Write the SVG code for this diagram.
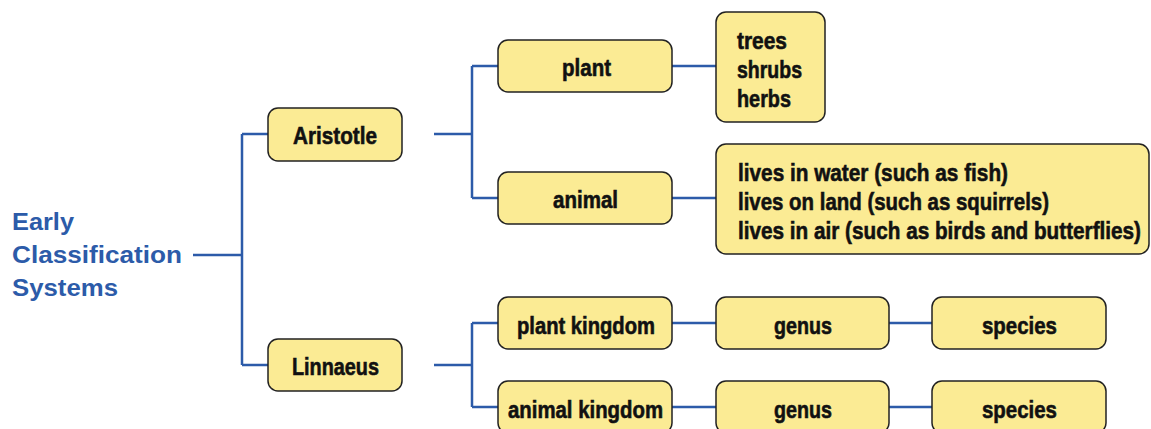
<svg xmlns="http://www.w3.org/2000/svg" width="1151" height="429" viewBox="0 0 1151 429">
<style>
.box{fill:#fbeb94;stroke:#222;stroke-width:1.5}
.lbl{font-family:"Liberation Sans Narrow","Liberation Sans",Arial,sans-serif;font-weight:bold;font-size:24px;fill:#111;stroke:#111;stroke-width:0.6}
.ttl{font-family:"Liberation Sans",Arial,sans-serif;font-weight:bold;font-size:24px;fill:#2c5ba9}
.con{fill:none;stroke:#2c5ba9;stroke-width:2.5}
</style>
<rect width="1151" height="429" fill="#fff"/>
<g id="connectors">
<path class="con" d="M193 255H242M242 134V365M242 134H268M242 365H268"/>
<path class="con" d="M434 134H472M472 66V198M472 66H498M472 198H498"/>
<path class="con" d="M672 66H716M672 198H716"/>
<path class="con" d="M434 365H472M472 323V407M472 323H498M472 407H498"/>
<path class="con" d="M672 323H716M889 323H932M672 407H716M889 407H932"/>
</g>
<g id="title">
<text class="ttl" x="12" y="230" textLength="62" lengthAdjust="spacingAndGlyphs">Early</text>
<text class="ttl" x="12" y="263" textLength="170" lengthAdjust="spacingAndGlyphs">Classification</text>
<text class="ttl" x="12" y="296" textLength="106" lengthAdjust="spacingAndGlyphs">Systems</text>
</g>
<g id="aristotle">
<rect class="box" x="268" y="108" width="134" height="53" rx="10"/>
<text class="lbl" x="293" y="144" textLength="84" lengthAdjust="spacingAndGlyphs">Aristotle</text>
</g>
<g id="linnaeus">
<rect class="box" x="268" y="339" width="134" height="52" rx="10"/>
<text class="lbl" x="292" y="375" textLength="87" lengthAdjust="spacingAndGlyphs">Linnaeus</text>
</g>
<g id="plant">
<rect class="box" x="498" y="40" width="174" height="52" rx="10"/>
<text class="lbl" x="562" y="76" textLength="49" lengthAdjust="spacingAndGlyphs">plant</text>
</g>
<g id="animal">
<rect class="box" x="498" y="172" width="174" height="52" rx="10"/>
<text class="lbl" x="553" y="208" textLength="65" lengthAdjust="spacingAndGlyphs">animal</text>
</g>
<g id="plant-types">
<rect class="box" x="716" y="12" width="109" height="110" rx="10"/>
<text class="lbl" x="737" y="49" textLength="50" lengthAdjust="spacingAndGlyphs">trees</text>
<text class="lbl" x="737" y="78" textLength="65" lengthAdjust="spacingAndGlyphs">shrubs</text>
<text class="lbl" x="737" y="107" textLength="54" lengthAdjust="spacingAndGlyphs">herbs</text>
</g>
<g id="animal-types">
<rect class="box" x="716" y="144" width="433" height="110" rx="10"/>
<text class="lbl" x="738" y="181" textLength="270" lengthAdjust="spacingAndGlyphs">lives in water (such as fish)</text>
<text class="lbl" x="738" y="210" textLength="311" lengthAdjust="spacingAndGlyphs">lives on land (such as squirrels)</text>
<text class="lbl" transform="translate(738 239) scale(0.863 1)" x="0" y="0" textLength="467" lengthAdjust="spacingAndGlyphs">lives in air (such as birds and butterflies)</text>
</g>
<g id="plant-kingdom">
<rect class="box" x="498" y="297" width="174" height="52" rx="10"/>
<text class="lbl" x="517" y="334" textLength="138" lengthAdjust="spacingAndGlyphs">plant kingdom</text>
</g>
<g id="animal-kingdom">
<rect class="box" x="498" y="381" width="174" height="52" rx="10"/>
<text class="lbl" x="508" y="418" textLength="155" lengthAdjust="spacingAndGlyphs">animal kingdom</text>
</g>
<g id="genus-1">
<rect class="box" x="716" y="297" width="173" height="52" rx="10"/>
<text class="lbl" x="774" y="334" textLength="58" lengthAdjust="spacingAndGlyphs">genus</text>
</g>
<g id="species-1">
<rect class="box" x="932" y="297" width="174" height="52" rx="10"/>
<text class="lbl" x="982" y="334" textLength="75" lengthAdjust="spacingAndGlyphs">species</text>
</g>
<g id="genus-2">
<rect class="box" x="716" y="381" width="173" height="52" rx="10"/>
<text class="lbl" x="774" y="418" textLength="58" lengthAdjust="spacingAndGlyphs">genus</text>
</g>
<g id="species-2">
<rect class="box" x="932" y="381" width="174" height="52" rx="10"/>
<text class="lbl" x="982" y="418" textLength="75" lengthAdjust="spacingAndGlyphs">species</text>
</g>
</svg>
